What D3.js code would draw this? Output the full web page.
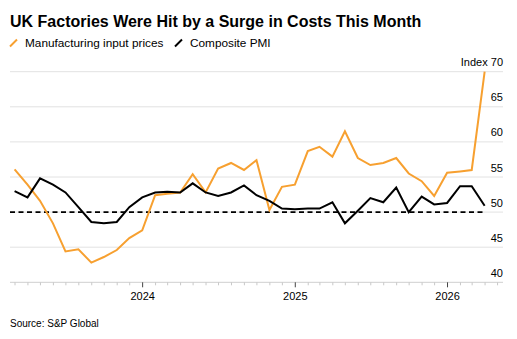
<!DOCTYPE html>
<html>
<head>
<meta charset="utf-8">
<script src="https://cdn.jsdelivr.net/npm/d3@7"></script>
<style>
  html, body { margin: 0; padding: 0; background: #fff; }
  svg { display: block; font-family: "Liberation Sans", Arial, sans-serif; }
</style>
</head>
<body>
<svg id="chart" width="517" height="339"></svg>
<script>
// Monthly readings, Feb 2023 through Mar 2026 (plotted at month end)
const startMonth = { year: 2023, month: 1 }; // February 2023 (0-based month)
const inputPrices = [
  56.1, 53.9, 51.6, 48.4, 44.4, 44.7, 42.8, 43.6, 44.6, 46.3, 47.4, 52.4,
  52.6, 52.8, 55.4, 52.8, 56.2, 57.0, 56.0, 57.4, 50.3, 53.6, 53.9, 58.7,
  59.3, 57.9, 61.5, 57.7, 56.7, 57.0, 57.7, 55.5, 54.4, 52.3, 55.6, 55.8,
  56.0, 70.0
];
const compositePMI = [
  53.0, 52.1, 54.8, 53.9, 52.8, 50.7, 48.6, 48.4, 48.6, 50.7, 52.1, 52.8,
  52.9, 52.8, 54.1, 52.8, 52.3, 52.8, 53.8, 52.4, 51.6, 50.5, 50.4, 50.5,
  50.5, 51.4, 48.4, 50.2, 52.0, 51.4, 53.5, 50.0, 52.2, 51.1, 51.3, 53.7,
  53.7, 50.9
];
const yTicks = [40, 45, 50, 55, 60, 65, 70];
const yearTicks = [2024, 2025, 2026];
const neutralLevel = 50;
const seriesNames = ["Manufacturing input prices", "Composite PMI"];
const seriesColors = ["#f7a030", "#000000"];

const dates = inputPrices.map((_, i) =>
  new Date(Date.UTC(startMonth.year, startMonth.month + i + 1, 0)));

const svg = d3.select("#chart");
const plotLeft = 10, plotRight = 503, plotTop = 71.7, plotBottom = 282.3;

const x = d3.scaleUtc()
  .domain([new Date(Date.UTC(2023, 1, 17)), new Date(Date.UTC(2026, 4, 14))])
  .range([plotLeft, plotRight]);
const y = d3.scaleLinear().domain([40, 70]).range([plotBottom, plotTop]);

// Title
svg.append("text")
  .attr("x", 10).attr("y", 26.5)
  .attr("font-size", 16).attr("font-weight", "bold").attr("fill", "#000")
  .text("UK Factories Were Hit by a Surge in Costs This Month");

// Legend
const legend = [
  { name: seriesNames[0], color: seriesColors[0], x0: 10, tx: 25 },
  { name: seriesNames[1], color: seriesColors[1], x0: 175, tx: 190 }
];
legend.forEach(d => {
  svg.append("line")
    .attr("x1", d.x0).attr("y1", 46.5).attr("x2", d.x0 + 7).attr("y2", 39.5)
    .attr("stroke", d.color).attr("stroke-width", 2);
  svg.append("text")
    .attr("x", d.tx).attr("y", 46.5)
    .attr("font-size", 11.8).attr("fill", "#000")
    .text(d.name);
});

// Horizontal gridlines with labels above, right aligned
const grid = svg.append("g");
yTicks.filter(v => v > 40).forEach(v => {
  grid.append("line")
    .attr("x1", plotLeft).attr("x2", plotRight)
    .attr("y1", y(v)).attr("y2", y(v))
    .attr("stroke", "#e2e2e2").attr("stroke-width", 1);
});
yTicks.forEach(v => {
  grid.append("text")
    .attr("x", plotRight).attr("y", y(v) - 5.5)
    .attr("text-anchor", "end")
    .attr("font-size", 11).attr("fill", "#000")
    .text(v === 70 ? "Index 70" : v);
});

// Bottom axis: monthly minor ticks, yearly labelled ticks
const axisG = svg.append("g").attr("transform", `translate(0,${plotBottom})`);
axisG.append("line")
  .attr("x1", plotLeft).attr("x2", plotRight)
  .attr("stroke", "#cfcfcf").attr("stroke-width", 1);
const months = d3.utcMonth.range(x.domain()[0], x.domain()[1]);
months.forEach(m => {
  const major = m.getUTCMonth() === 0;
  axisG.append("line")
    .attr("x1", x(m)).attr("x2", x(m))
    .attr("y1", 0).attr("y2", major ? 5 : 3)
    .attr("stroke", major ? "#444" : "#c8c8c8").attr("stroke-width", 1);
});
yearTicks.forEach(yr => {
  axisG.append("text")
    .attr("x", x(new Date(Date.UTC(yr, 0, 1)))).attr("y", 17.5)
    .attr("text-anchor", "middle")
    .attr("font-size", 11).attr("fill", "#000")
    .text(yr);
});

// Neutral 50 reference line
svg.append("line")
  .attr("x1", plotLeft).attr("x2", x(dates[dates.length - 1]))
  .attr("y1", y(neutralLevel)).attr("y2", y(neutralLevel))
  .attr("stroke", "#000").attr("stroke-width", 1.6)
  .attr("stroke-dasharray", "5,3.5");

// Series lines
const line = d3.line().x((d, i) => x(dates[i])).y(d => y(d));
[inputPrices, compositePMI].forEach((s, k) => {
  svg.append("path")
    .datum(s)
    .attr("d", line)
    .attr("fill", "none")
    .attr("stroke", seriesColors[k])
    .attr("stroke-width", 2)
    .attr("stroke-linejoin", "miter");
});

// Source note
svg.append("text")
  .attr("x", 10).attr("y", 327)
  .attr("font-size", 10).attr("fill", "#000")
  .text("Source: S&P Global");
</script>
</body>
</html>
